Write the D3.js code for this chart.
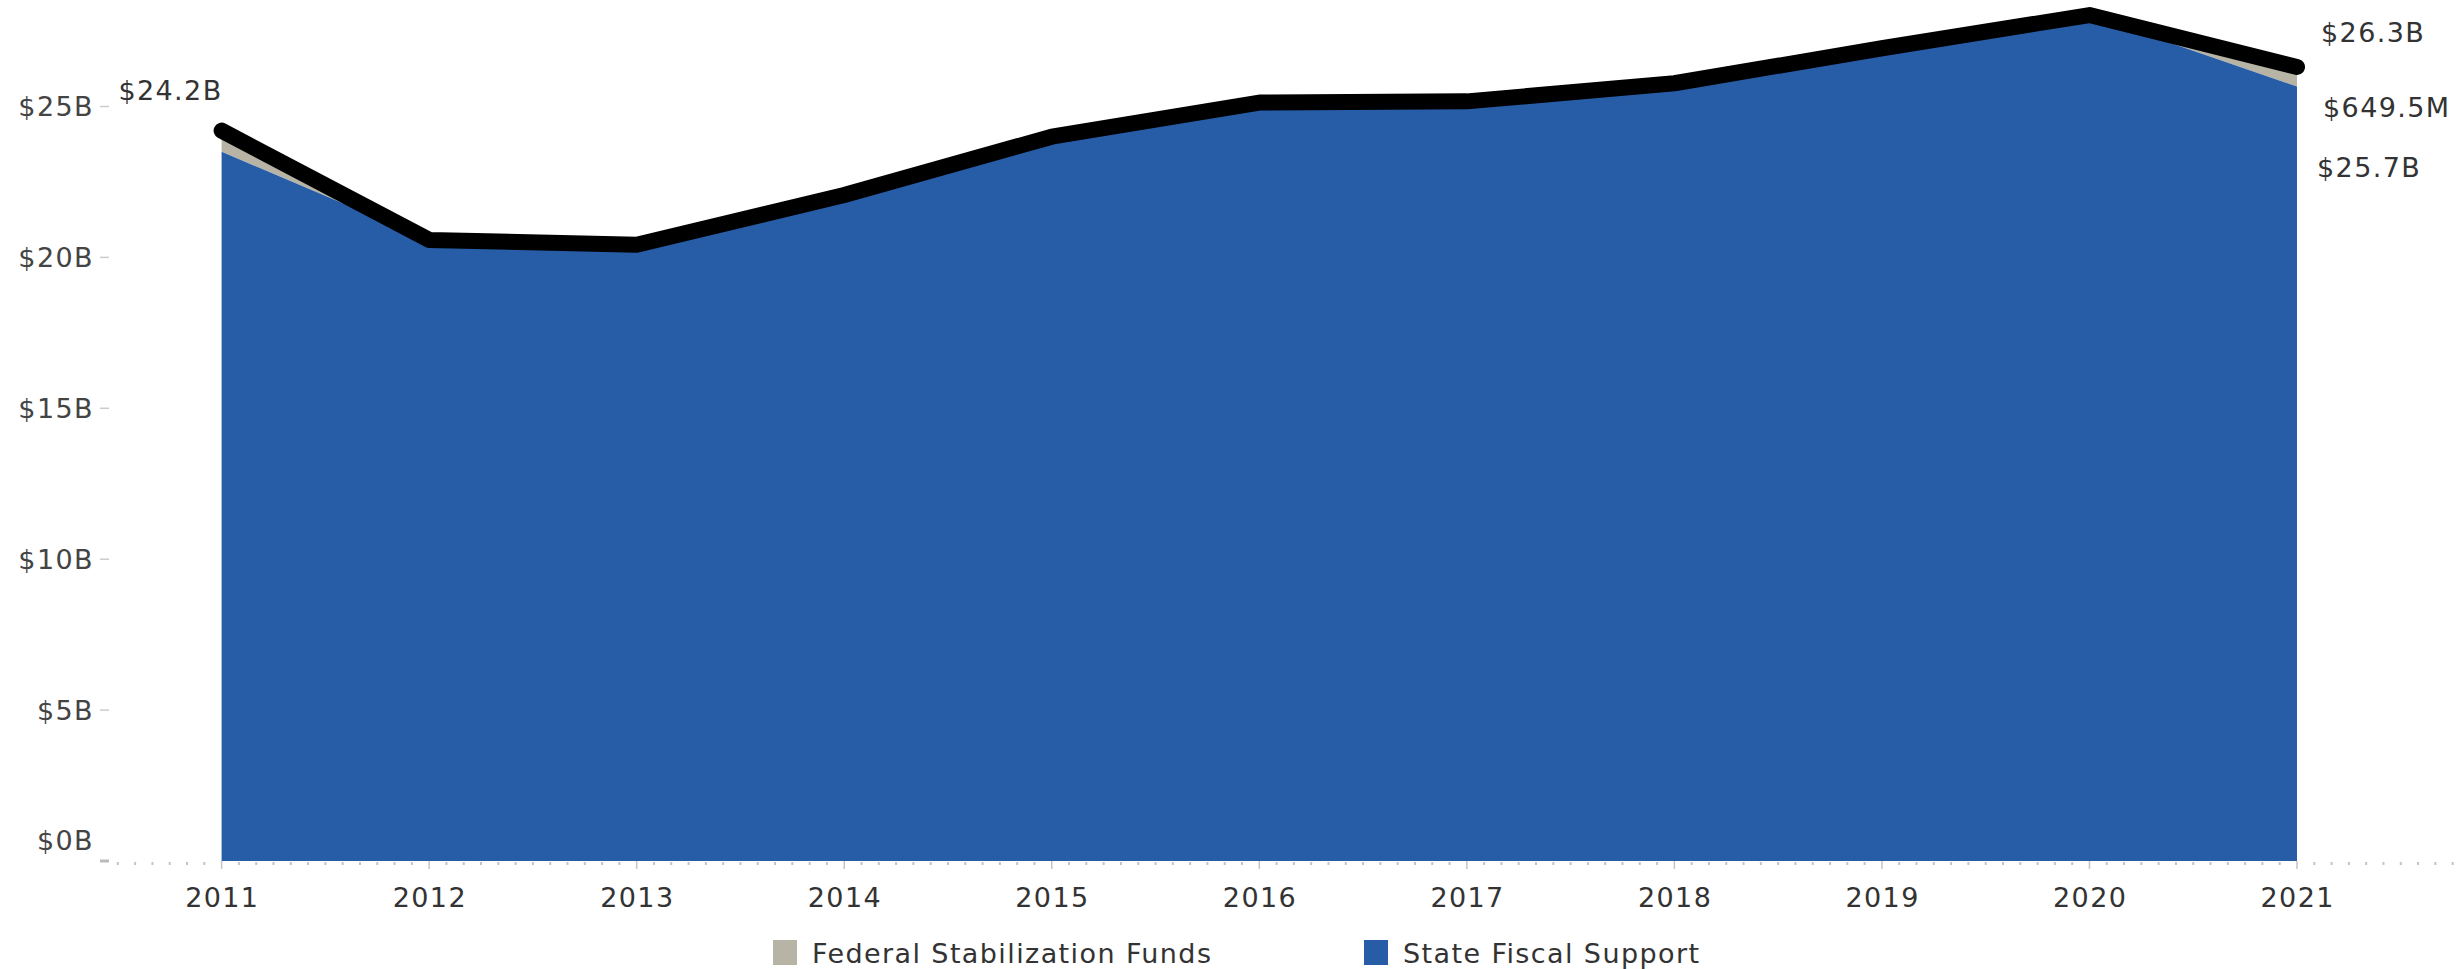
<!DOCTYPE html>
<html>
<head>
<meta charset="utf-8">
<script src="https://cdn.jsdelivr.net/npm/d3@7"></script>
<style>
  html, body { margin: 0; padding: 0; background: #fff; }
  svg { display: block; }
  text { font-family: "DejaVu Sans", sans-serif; letter-spacing: 1.4px; }
</style>
</head>
<body>
<script>
// ---- data ----
const years = [2011, 2012, 2013, 2014, 2015, 2016, 2017, 2018, 2019, 2020, 2021];
const stateFiscalSupport = [23.50, 20.58, 20.42, 22.07, 24.00, 25.13, 25.17, 25.77, 26.93, 28.03, 25.66];
const federalStabilizationFunds = [0.70, 0, 0, 0, 0, 0, 0, 0, 0, 0, 0.6495];
const yTickValues = [0, 5, 10, 15, 20, 25];
const yTickLabels = ["$0B", "$5B", "$10B", "$15B", "$20B", "$25B"];
const seriesNames = ["Federal Stabilization Funds", "State Fiscal Support"];
const seriesColors = ["#b7b4a6", "#275ca7"];

const W = 2464, H = 969;
const svg = d3.select("body").append("svg").attr("width", W).attr("height", H);

const x = d3.scaleLinear().domain([2011, 2021]).range([221.6, 2297]);
const y = d3.scaleLinear().domain([0, 25]).range([861, 106.5]);

const rows = years.map((yr, i) => ({
  year: yr,
  state: stateFiscalSupport[i],
  federal: federalStabilizationFunds[i],
  total: stateFiscalSupport[i] + federalStabilizationFunds[i]
}));

// ---- areas ----
const stateArea = d3.area().x(d => x(d.year)).y0(y(0)).y1(d => y(d.state));
const fedArea = d3.area().x(d => x(d.year)).y0(d => y(d.state)).y1(d => y(d.total));
svg.append("path").datum(rows).attr("d", fedArea).attr("fill", seriesColors[0]);
svg.append("path").datum(rows).attr("d", stateArea).attr("fill", seriesColors[1]);

// ---- total line ----
const line = d3.line().x(d => x(d.year)).y(d => y(d.total));
svg.append("path").datum(rows).attr("d", line)
  .attr("fill", "none").attr("stroke", "#000").attr("stroke-width", 16)
  .attr("stroke-linejoin", "round").attr("stroke-linecap", "round");

// ---- x axis: minor (monthly) and major (yearly) ticks ----
const baseY = y(0);
const months = d3.range(-7, 10 * 12 + 10);
svg.append("g").selectAll("rect.minor")
  .data(months.filter(m => m % 12 !== 0 && m !== -7))
  .join("rect")
  .attr("x", m => x(2011 + m / 12) - 1)
  .attr("y", baseY + 1)
  .attr("width", 2).attr("height", 3)
  .attr("fill", "#c4c4c4");
svg.append("g").selectAll("line.major")
  .data(years)
  .join("line")
  .attr("x1", d => x(d)).attr("x2", d => x(d))
  .attr("y1", baseY).attr("y2", baseY + 8)
  .attr("stroke", "#c4c4c4").attr("stroke-width", 1.5);
svg.append("g").selectAll("text.year")
  .data(years)
  .join("text")
  .attr("x", d => x(d) + 0.7)
  .attr("y", 897)
  .attr("text-anchor", "middle")
  .attr("dominant-baseline", "central")
  .attr("font-size", 27)
  .attr("fill", "#333")
  .text(d => d);

// ---- y axis ----
const yAxis = svg.append("g");
yAxis.selectAll("line")
  .data(yTickValues)
  .join("line")
  .attr("x1", 100).attr("x2", 109)
  .attr("y1", d => y(d)).attr("y2", d => y(d))
  .attr("stroke", d => d === 0 ? "#bbbbbb" : "#cccccc")
  .attr("stroke-width", d => d === 0 ? 3 : 1.5);
yAxis.selectAll("text")
  .data(yTickValues)
  .join("text")
  .attr("x", 94)
  .attr("y", d => d === 0 ? y(d) - 21 : y(d))
  .attr("text-anchor", "end")
  .attr("dominant-baseline", "central")
  .attr("font-size", 27)
  .attr("fill", "#444")
  .text((d, i) => yTickLabels[i]);

// ---- data labels ----
const fmtB = v => "$" + d3.format(".1f")(v) + "B";
const fmtM = v => "$" + d3.format(".1f")(v * 1000) + "M";
const first = rows[0], last = rows[rows.length - 1];
const lbl = svg.append("g").attr("font-size", 27).attr("fill", "#333");
lbl.append("text")
  .attr("x", x(first.year) + 1).attr("y", y(first.total) - 40)
  .attr("text-anchor", "end").attr("dominant-baseline", "central")
  .text(fmtB(first.total));
lbl.append("text")
  .attr("x", x(last.year) + 24).attr("y", y(last.total) - 34)
  .attr("dominant-baseline", "central")
  .text(fmtB(last.total));
lbl.append("text")
  .attr("x", x(last.year) + 26).attr("y", y(last.total) + 41)
  .attr("dominant-baseline", "central")
  .text(fmtM(last.federal));
lbl.append("text")
  .attr("x", x(last.year) + 20).attr("y", y(last.total) + 101)
  .attr("dominant-baseline", "central")
  .text(fmtB(last.state));

// ---- legend ----
const legendX = [773, 1364];
const leg = svg.append("g").selectAll("g").data(seriesNames).join("g")
  .attr("transform", (d, i) => `translate(${legendX[i]},0)`);
leg.append("rect").attr("x", 0).attr("y", 940).attr("width", 24).attr("height", 25)
  .attr("fill", (d, i) => seriesColors[i]);
leg.append("text").attr("x", 39).attr("y", 953)
  .attr("dominant-baseline", "central")
  .attr("font-size", 27).attr("fill", "#333")
  .text(d => d);
</script>
</body>
</html>
